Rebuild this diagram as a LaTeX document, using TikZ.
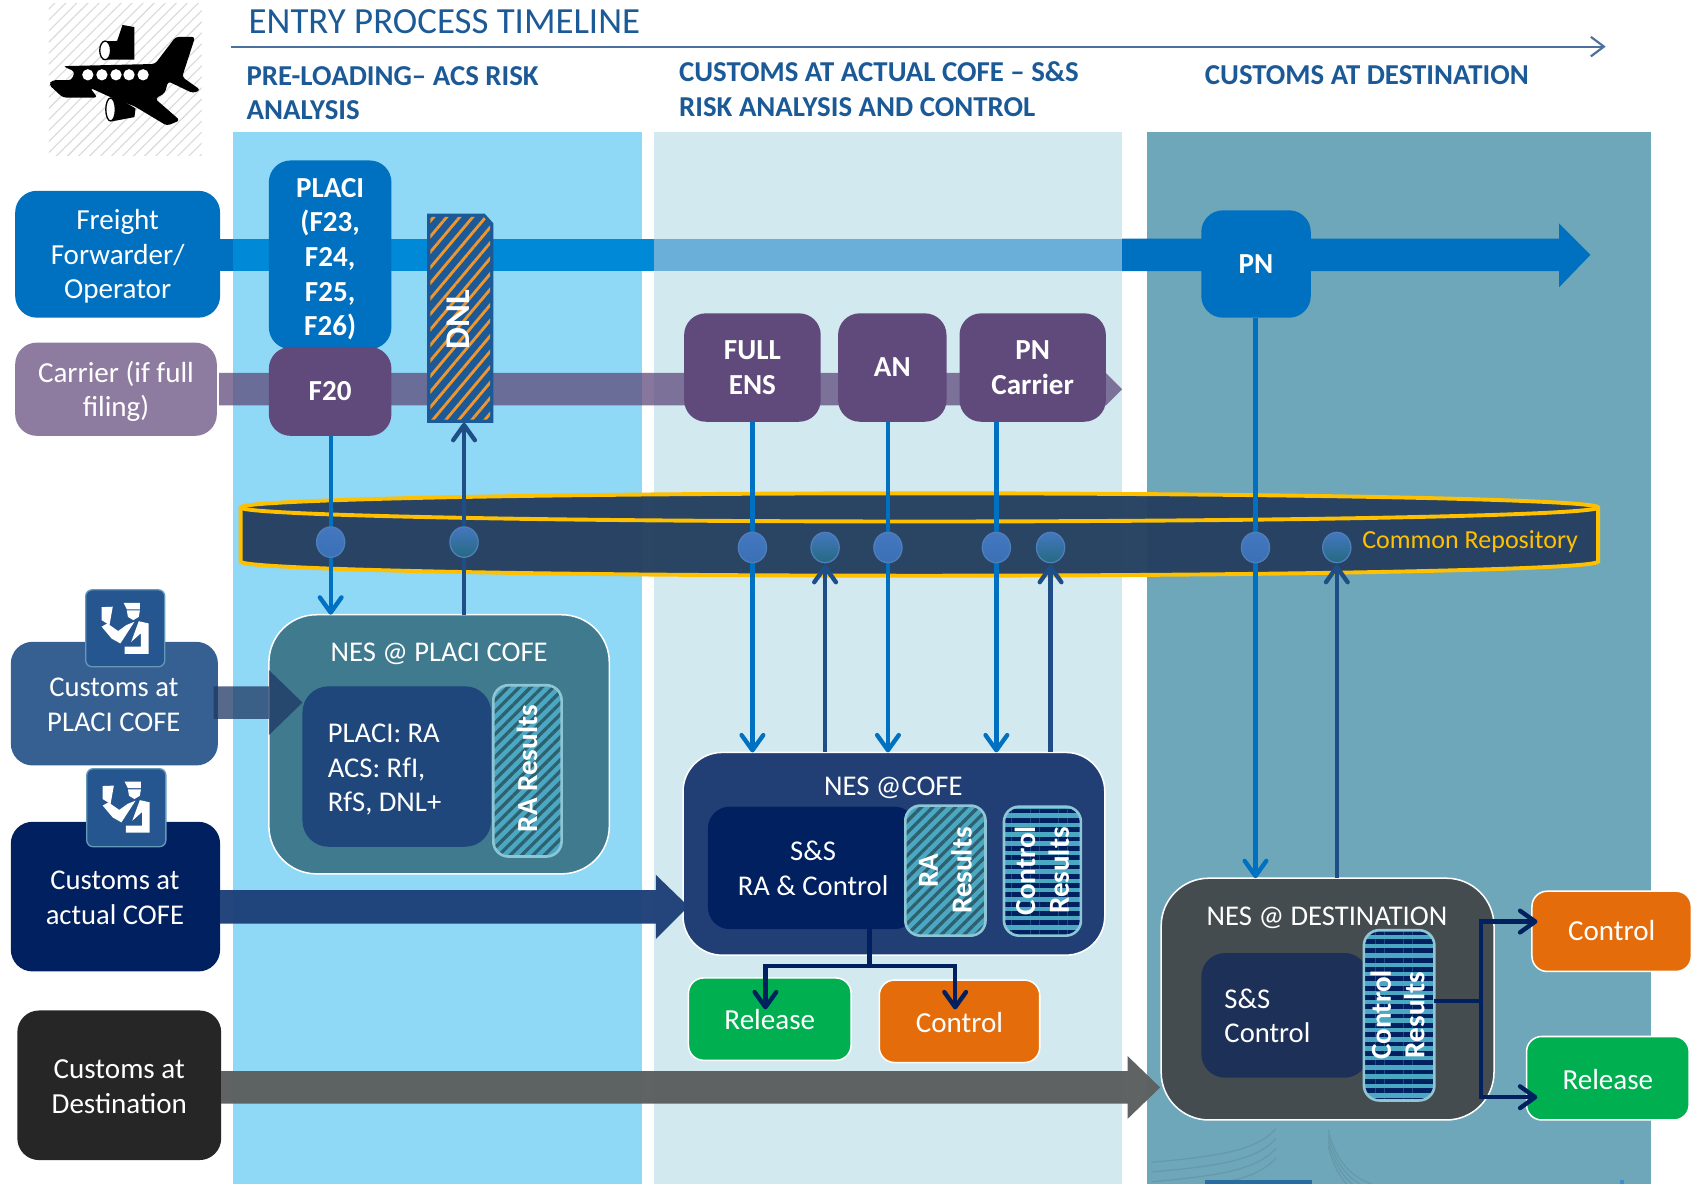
\documentclass[tikz,border=0pt]{standalone}
\usepackage{fontspec}
\setmainfont{Carlito}
\usetikzlibrary{arrows.meta,patterns.meta,shapes.geometric}
\definecolor{cblue}{HTML}{0070C0}
\definecolor{cblueb}{HTML}{0089D6}
\definecolor{cbluel}{HTML}{69AFDA}
\definecolor{cpurple}{HTML}{604A7B}
\definecolor{ccarrier}{HTML}{8E7CA0}
\definecolor{cnavy}{HTML}{002060}
\definecolor{cline}{HTML}{1F4E87}
\definecolor{chead}{HTML}{1B5A96}
\definecolor{cgold}{HTML}{FFC000}
\definecolor{cteal}{HTML}{4BA8C3}
\definecolor{cstripe}{HTML}{2F6070}
\definecolor{cborder}{HTML}{8EC6D6}
\definecolor{pblue}{HTML}{8FD8F6}
\definecolor{plight}{HTML}{D3E9F0}
\definecolor{pteal}{HTML}{6FA7BA}
\definecolor{cdottop}{HTML}{4477C0}
\definecolor{cdotbot}{HTML}{3A70B5}
\definecolor{cdotteal}{HTML}{256A80}
\definecolor{cdotedge}{HTML}{4F7FB8}
\definecolor{crepo}{HTML}{253F60}
\definecolor{cicon}{HTML}{26568F}
\definecolor{ccplaci}{HTML}{376092}
\definecolor{cnesp}{HTML}{3F7A8E}
\definecolor{cnespi}{HTML}{1F477C}
\definecolor{cnesc}{HTML}{223F75}
\definecolor{cnesd}{HTML}{454C4F}
\definecolor{cnesdi}{HTML}{1D3158}
\definecolor{crel}{HTML}{00B050}
\definecolor{cctl}{HTML}{E46C0A}
\definecolor{carr}{HTML}{1C3F78}
\definecolor{carrd}{HTML}{5C6060}
\definecolor{carrp}{HTML}{1F3864}
\definecolor{cdnl}{HTML}{F0962F}
% name, style, x1, y1, x2, y2, text drop, text
\newcommand{\BX}[8]{%
  \pgfmathsetmacro\bcx{(#3+#5)/2}\pgfmathsetmacro\bcy{(#4+#6)/2}%
  \pgfmathsetmacro\bbw{(#5-#3)*0.5}\pgfmathsetmacro\bbh{(#6-#4)*0.5}%
  \pgfmathsetmacro\bty{\bcy+#7}%
  \node[box,#2,minimum width=\bbw pt,minimum height=\bbh pt] (#1) at (\bcx,\bcy) {};
  \node[box,#2,draw=none,fill=none] (#1t) at (\bcx,\bty) {#8};}
% patterned, textless box
\newcommand{\BR}[6]{%
  \pgfmathsetmacro\bcx{(#3+#5)/2}\pgfmathsetmacro\bcy{(#4+#6)/2}%
  \pgfmathsetmacro\bbw{(#5-#3)*0.5}\pgfmathsetmacro\bbh{(#6-#4)*0.5}%
  \node[box,#2,minimum width=\bbw pt,minimum height=\bbh pt] (#1) at (\bcx,\bcy) {};}
\newcommand{\officer}[2]{%
  \begin{scope}[shift={(#1,#2)}]
    \fill[white] (14.7,16)--(25,15.6)--(22,32.5)--(14.7,28)--cycle;
    \fill[white] (35,12)--(50,12)--(50,18)--(38,18)--cycle;
    \fill[white] (38,19)--(50,19)--(49,25)--(44,28)--(39,25)--cycle;
    \fill[white] (14.7,34)--(20,31)--(30,38)--(37.6,32.5)--(45,29.5)--(32,49.5)--(24,45)--cycle;
    \fill[white] (49,29)--(58,31)--(58,59)--(36,59)--(36,52.5)--(51,52.5)--(51,40)--(42,48)--cycle;
  \end{scope}}
\tikzset{
  box/.style={inner sep=0pt,outer sep=0pt,align=center,text=white,font=\fontsize{13.4}{16}\selectfont,rounded corners=10pt},
  bb/.style={font=\fontsize{13.4}{16}\selectfont\bfseries},
  label/.style={inner sep=0pt,align=center,text=white,font=\fontsize{13.2}{16}\selectfont},
  leftlabel/.style={inner sep=0pt,anchor=west,align=left,text=white,font=\fontsize{13.2}{16}\selectfont},
  hdr/.style={inner sep=0pt,anchor=west,align=left,text=chead,font=\fontsize{13.3}{16}\selectfont\bfseries},
  raboxs/.style={preaction={fill=cteal},pattern={Lines[angle=45,distance=3.7pt,line width=1.5pt]},pattern color=cstripe,draw=cborder,line width=1.2pt,rounded corners=7pt},
  ctlboxs/.style={preaction={fill=cteal},pattern={Lines[angle=0,distance=4.3pt,line width=2.2pt]},pattern color=cnavy,draw=cborder,line width=1.2pt,rounded corners=7pt},
  vtext/.style={inner sep=0pt,rotate=90,align=center,text=white,font=\fontsize{13.4}{15.5}\selectfont\bfseries},
  down/.style={draw=cblue,line width=2pt,-{Straight Barb[round,length=7pt,width=10pt,line width=2pt]}},
  up/.style={draw=cline,line width=2pt,-{Straight Barb[round,length=7pt,width=10pt,line width=2pt]}},
  navyarrow/.style={draw=cnavy,line width=2pt,-{Straight Barb[round,length=7pt,width=10pt,line width=2pt]}},
  navyline/.style={draw=cnavy,line width=2pt},
  dotdown/.style={ellipse,inner sep=0pt,minimum width=13pt,minimum height=14pt,draw=cdotedge,line width=.6pt,top color=cdottop,bottom color=cdotbot},
  dotup/.style={ellipse,inner sep=0pt,minimum width=13pt,minimum height=14pt,draw=cdotedge,line width=.6pt,top color=cdottop,bottom color=cdotteal},
  iconbox/.style={fill=cicon,draw=cborder!60!cicon,line width=.6pt,rounded corners=3pt},
  wb/.style={draw=white,line width=.7pt},
  wm/.style={draw=pteal!92!black,line width=.6pt},
}
\begin{document}
\begin{tikzpicture}[x=0.5pt,y=-0.5pt]
\useasboundingbox (0,0) rectangle (1568,1092);
\fill[white] (0,0) rectangle (1568,1092);
% panels
\fill[pblue] (215,122) rectangle (592,1092);
\fill[plight] (603,122) rectangle (1035,1092);
\fill[pteal] (1058,122) rectangle (1523,1092);
% faint watermark
\begin{scope}
  \clip (1058,1030) rectangle (1523,1092);
  \foreach \d in {0,9,18,27}
    \draw[wm] (1062,1072+\d) .. controls (1130,1066+\d) and (1160,1060+\d) .. (1177,1041+\d);
  \foreach \d in {0,5,10,15}
    \draw[wm] (1225,1042+\d) .. controls (1232,1070+\d) and (1245,1085+\d) .. (1265,1092+\d);
  \fill[color=chead!75!cteal] (1111,1088) rectangle (1210,1092);
  \fill[color=cteal!85!blue] (1494,1088) rectangle (1498,1092);
\end{scope}
% title
\node[inner sep=0pt,anchor=west,text=chead,font=\fontsize{17}{20}\selectfont] (title) at (229,20) {ENTRY PROCESS TIMELINE};
\coordinate (tlstart) at (213,43);
\coordinate (tlend) at (1481,43);
\draw[draw=cline!80!white,line width=1pt,-{Straight Barb[length=6pt,width=9pt,line width=1pt]}] (tlstart) -- (tlend);
\node[hdr] (h1) at (227,86) {PRE-LOADING– ACS RISK\\ANALYSIS};
\node[hdr] (h2) at (626,82) {CUSTOMS AT ACTUAL COFE – S\&S\\RISK ANALYSIS AND CONTROL};
\node[hdr] (h3) at (1111,69) {CUSTOMS AT DESTINATION};
% plane icon
\begin{scope}
  \clip (45,3) rectangle (186,143);
  \fill[pattern={Lines[angle=45,distance=3.6pt,line width=.5pt]},pattern color=black!15] (45,3) rectangle (186,143);
\end{scope}
\fill[black] (98,38)--(108,38)--(113,23)--(124,25)--(124,55)--(98,55)--cycle;
\draw[black,fill=white,line width=.6pt] (97,46.5) ellipse[x radius=2.5pt,y radius=4.3pt];
\fill[black,rounded corners=1.5pt] (58,61)--(143,59)--(162,34)--(180,34)--(168,71)--(185,83)--(178,86)--(155,75)--(152,86)--(143,91)--(166,111)--(154,116)--(124,98)--(105,91)--(83,81)--(90,90)--(58,90)--(45,78)--(48,74)--(66,74)--(69,66)--cycle;
\fill[black] (102,90)--(108,90)--(125,100)--(124,108)--(103,112)--cycle;
\draw[black,fill=white,line width=.6pt] (102,101) ellipse[x radius=2.2pt,y radius=5.3pt];
\foreach \wx in {81,94,107,119,132}
  \fill[white] (\wx,69) ellipse[x radius=2.6pt,y radius=2.6pt];
% freight bar
\fill[color=cblue] (203,220) rectangle (215,250);
\fill[color=cblueb] (215,220) rectangle (603,250);
\fill[color=cbluel] (603,220) rectangle (1035,250);
\fill[color=cblue] (1035,220) -- (1438,220) -- (1438,206) -- (1467,235) -- (1438,265) -- (1438,250) -- (1035,250) -- cycle;
% carrier bar
\fill[color=cpurple,opacity=.75] (202,344) -- (1020,344) -- (1035,359) -- (1020,374) -- (202,374) -- cycle;
% repository
\fill[color=crepo,opacity=.97] (222,468) -- (222,518) arc[start angle=180,end angle=360,x radius=313pt,y radius=6.5pt] -- (1474,468) arc[start angle=0,end angle=180,x radius=313pt,y radius=6.5pt] -- cycle;
\draw[cgold,line width=1.8pt] (222,468) -- (222,518) arc[start angle=180,end angle=360,x radius=313pt,y radius=6.5pt] -- (1474,468) arc[start angle=0,end angle=180,x radius=313pt,y radius=6.5pt] -- cycle;
\draw[cgold,line width=1.8pt] (222,468) arc[start angle=180,end angle=360,x radius=313pt,y radius=6.5pt];
\node[inner sep=0pt,text=cgold,font=\fontsize{12}{14}\selectfont] (repo) at (1356,500) {Common Repository};
% actors
\BX{freight}{fill=cblue}{14}{176}{203}{293}{2}{Freight\\Forwarder/\\Operator}
\BX{carrier}{fill=ccarrier}{14}{316}{200}{402}{2}{Carrier (if full\\filing)}
\BX{cplaci}{fill=ccplaci}{10}{592}{201}{706}{0}{}
\BX{cactual}{fill=cnavy}{10}{758}{203}{896}{0}{}
\BX{cdest}{fill=black!85}{16}{932}{204}{1070}{1}{Customs at\\Destination}
\node[label] (lplaci) at (105,650) {Customs at\\PLACI COFE};
\node[label] (lactual) at (106,828) {Customs at\\actual COFE};
\BR{i1}{iconbox}{79}{544}{152}{615}
\BR{i2}{iconbox}{80}{709}{153}{781}
\officer{79}{544}
\officer{80}{709}
% message boxes
\BX{placi}{fill=cblue,bb}{248}{148}{361}{322}{4}{PLACI\\(F23,\\F24,\\F25,\\F26)}
\BX{f20}{fill=cpurple,bb}{248}{320}{361}{402}{0}{F20}
\BR{dnl}{}{394}{197}{455}{390}
\fill[color=chead] (394,197) -- (447,197) -- (455,206) -- (455,390) -- (394,390) -- cycle;
\begin{scope}
  \clip (397,200) -- (446,200) -- (452,207) -- (452,387) -- (397,387) -- cycle;
  \fill[pattern={Lines[angle=50,distance=4.6pt,line width=1.3pt]},pattern color=cdnl] (394,197) rectangle (455,390);
\end{scope}
\node[inner sep=0pt,rotate=90,text=white,font=\fontsize{16}{18}\selectfont\bfseries] (dnllab) at (423,295) {DNL};
\BX{fullens}{fill=cpurple,bb}{631}{289}{757}{389}{0}{FULL\\ENS}
\BX{an}{fill=cpurple,bb}{773}{289}{873}{389}{0}{AN}
\BX{pncar}{fill=cpurple,bb}{885}{289}{1020}{389}{0}{PN\\Carrier}
\BX{pn}{fill=cblue,bb}{1108}{194}{1209}{293}{0}{PN}
% NES boxes
\BX{nesp}{fill=cnesp,wb,rounded corners=22pt}{248}{567}{562}{806}{0}{}
\node[label] (nespl) at (405,603) {NES @ PLACI COFE};
\BX{nespi}{fill=cnespi,rounded corners=12pt}{279}{633}{453}{781}{0}{}
\node[leftlabel] (nespt) at (302,710) {PLACI: RA\\ACS: RfI,\\RfS, DNL+};
\BR{nespr}{raboxs}{455}{632}{518}{790}
\node[vtext] (nesprt) at (486,709) {RA Results};
\fill[color=carrp,opacity=.75] (197,633) -- (248,633) -- (248,618) -- (279,648) -- (248,678) -- (248,663) -- (197,663) -- cycle;
\BX{nesc}{fill=cnesc,wb,rounded corners=18pt}{630}{694}{1019}{881}{0}{}
\node[label] (nescl) at (824,727) {NES @COFE};
\BX{nesci}{fill=cnavy,rounded corners=10pt}{653}{744}{845}{857}{0}{}
\node[label] (nesct) at (750,801) {S\&S\\RA \& Control};
\BR{nescr}{raboxs}{835}{743}{909}{863}
\node[vtext] (nescrt) at (872,803) {RA\\Results};
\BR{nescc}{ctlboxs}{926}{744}{997}{863}
\node[vtext] (nescct) at (961,803) {Control\\Results};
\BX{nesd}{fill=cnesd,wb,rounded corners=22pt}{1071}{810}{1378}{1033}{0}{}
\node[label] (nesdl) at (1224,847) {NES @ DESTINATION};
\BX{nesdi}{fill=cnesdi,rounded corners=11pt}{1108}{879}{1262}{994}{0}{}
\node[leftlabel] (nesdt) at (1129,937) {S\&S\\Control};
\BR{nesdr}{ctlboxs}{1258}{858}{1323}{1015}
\node[vtext] (nesdrt) at (1289,936) {Control\\Results};
% customs big arrows
\fill[color=carr,opacity=.96] (203,821) -- (605,821) -- (605,807) -- (635,836) -- (605,866) -- (605,852) -- (203,852) -- cycle;
\fill[color=carrd,opacity=.98] (204,988) -- (1040,988) -- (1040,974) -- (1070,1003) -- (1040,1032) -- (1040,1018) -- (204,1018) -- cycle;
% outcome boxes
\BX{rel1}{fill=crel,wb,rounded corners=7pt}{635}{902}{785}{978}{0}{Release}
\BX{ctl1}{fill=cctl,wb,rounded corners=7pt}{811}{904}{959}{980}{1}{Control}
\BX{ctl2}{fill=cctl,wb,rounded corners=7pt}{1413}{822}{1560}{896}{-1}{Control}
\BX{rel2}{fill=crel,wb,rounded corners=7pt}{1408}{956}{1558}{1033}{1}{Release}
% connector anchors
\coordinate (x1) at (305,500);
\coordinate (x2) at (428,500);
\coordinate (x3) at (694,505);
\coordinate (x4) at (761,505);
\coordinate (x5) at (819,505);
\coordinate (x6) at (919,505);
\coordinate (x7) at (969,505);
\coordinate (x8) at (1158,505);
\coordinate (x9) at (1233,505);
\coordinate (y1) at (761,521);
\coordinate (y2) at (969,521);
\coordinate (y3) at (1233,521);
\draw[down] (x1 |- f20.south) -- (x1 |- nesp.north);
\draw[up] (x2 |- nesp.north) -- (x2 |- dnl.south);
\draw[down] (x3 |- fullens.south) -- (x3 |- nesc.north);
\draw[up] (x4 |- nesc.north) -- (y1);
\draw[down] (x5 |- an.south) -- (x5 |- nesc.north);
\draw[down] (x6 |- pncar.south) -- (x6 |- nesc.north);
\draw[up] (x7 |- nesc.north) -- (y2);
\draw[down] (x8 |- pn.south) -- (x8 |- nesd.north);
\draw[up] (x9 |- nesd.north) -- (y3);
\node[dotdown] (d1) at (x1) {};
\node[dotup] (d2) at (x2) {};
\node[dotdown] (d3) at (x3) {};
\node[dotup] (d4) at (x4) {};
\node[dotdown] (d5) at (x5) {};
\node[dotdown] (d6) at (x6) {};
\node[dotup] (d7) at (x7) {};
\node[dotdown] (d8) at (x8) {};
\node[dotup] (d9) at (x9) {};
% outcome connectors
\coordinate (j1) at (802,891);
\draw[navyline] (j1 |- nesci.south) -- (j1);
\coordinate (c1) at (706,891);
\coordinate (c2) at (881,891);
\draw[navyarrow] (j1) -- (c1) -- (706,931);
\draw[navyarrow] (j1) -- (c2) -- (881,931);
\coordinate (j2) at (1366,923);
\draw[navyline] (nesdr.east |- j2) -- (j2);
\coordinate (c3) at (1366,850);
\coordinate (c4) at (1366,1012);
\draw[navyarrow] (j2) -- (c3) -- (1418,850);
\draw[navyarrow] (j2) -- (c4) -- (1418,1012);
\end{tikzpicture}
\end{document}
